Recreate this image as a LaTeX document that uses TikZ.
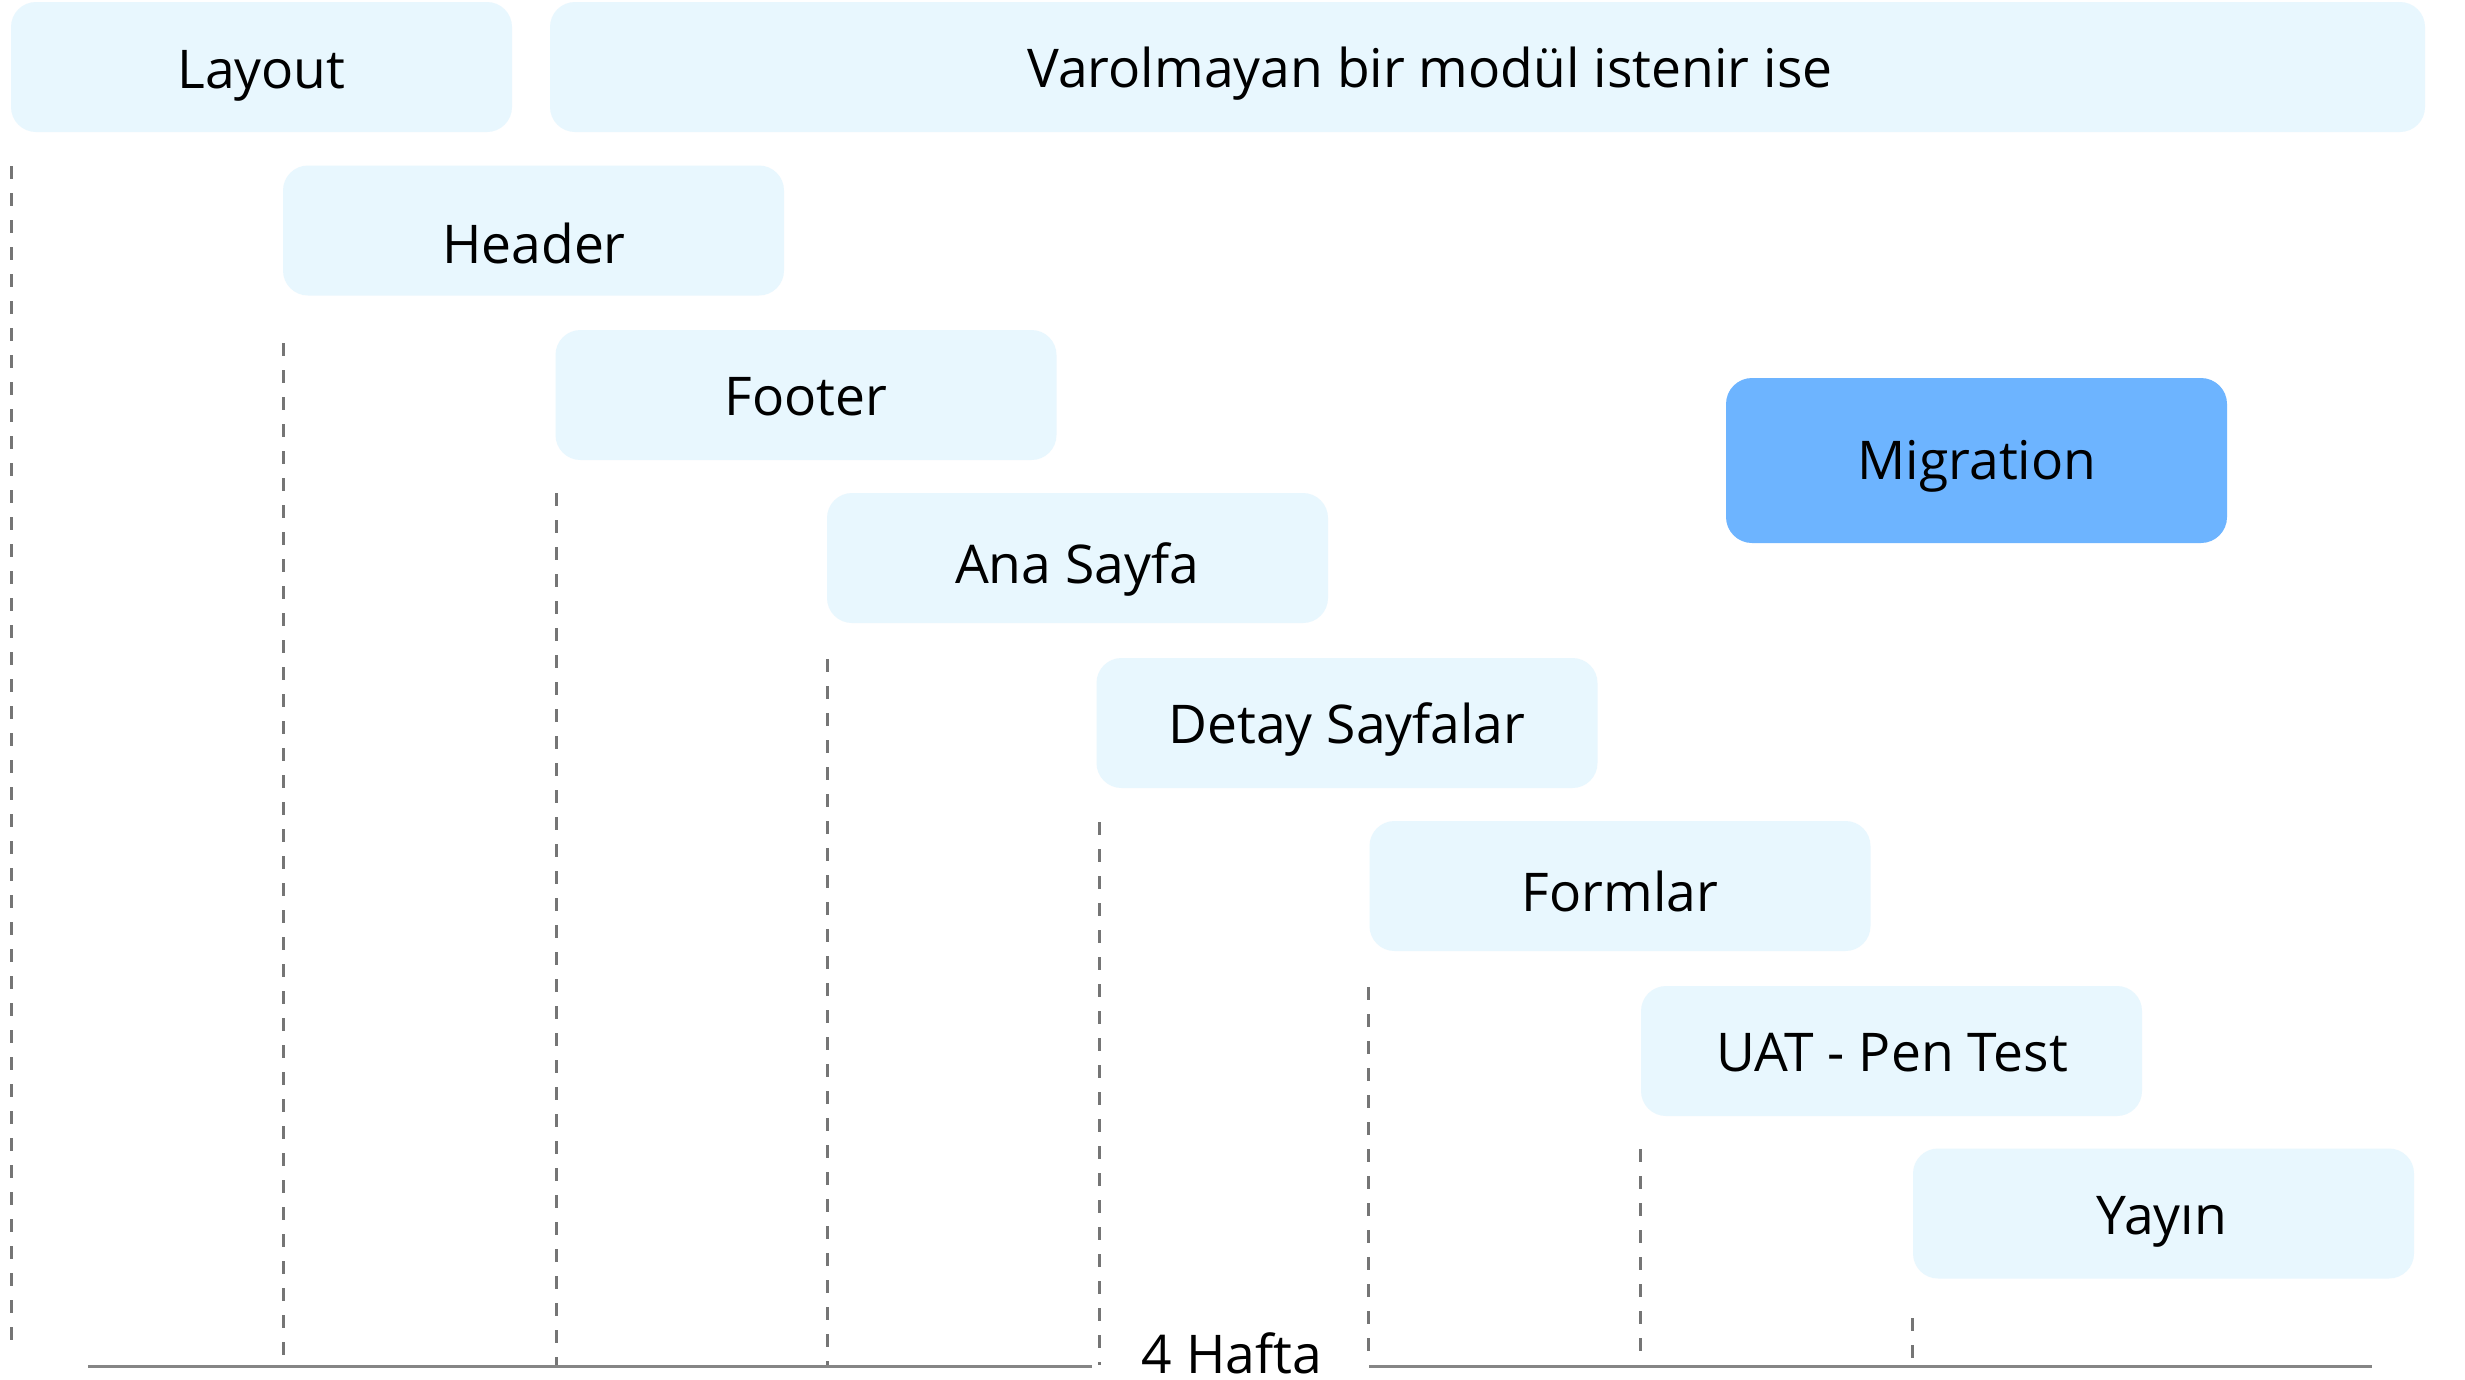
\documentclass[tikz,border=0pt]{standalone}
\usepackage{fontspec}
\setmainfont{Open Sans}
\definecolor{barfill}{HTML}{E8F7FE}
\definecolor{migfill}{HTML}{6DB4FF}
\definecolor{guidegray}{HTML}{757575}
\definecolor{axisgray}{HTML}{858585}
\begin{document}
\begin{tikzpicture}[x=1pt,y=-1pt,
  bar/.style={fill=barfill, rounded corners=25pt, inner sep=0pt, minimum width=501pt, minimum height=130pt},
  migbar/.style={fill=migfill, rounded corners=26pt, inner sep=0pt, minimum width=501pt, minimum height=165pt},
  lbl/.style={anchor=base, inner sep=0pt, font=\fontsize{53.4}{60}\selectfont, text=black},
  guide/.style={draw=guidegray, line width=3pt, dash pattern=on 13pt off 14pt},
  axisline/.style={draw=axisgray, line width=3pt}]
\useasboundingbox (0,0) rectangle (2465,1379);
\fill[white] (0,0) rectangle (2465,1379);

% bars
\node[bar] (layout) at (261.5,67) {};
\node[bar, minimum width=1875pt] (varol) at (1487.5,67) {};
\node[bar] (header) at (533.5,230.5) {};
\node[bar] (footer) at (806,395) {};
\node[bar] (ana) at (1077.5,558) {};
\node[bar] (detay) at (1347,723) {};
\node[bar] (formlar) at (1620,886) {};
\node[bar] (uat) at (1891.5,1051) {};
\node[bar] (yayin) at (2163.5,1213.5) {};
\node[migbar] (migration) at (1976.5,460.5) {};

% labels
\node[lbl] (tlayout) at (261.5,88) {Layout};
\node[lbl] (tvarol) at (1430,87) {Varolmayan bir modül istenir ise};
\node[lbl] (theader) at (534,263) {Header};
\node[lbl] (tfooter) at (806,415) {Footer};
\node[lbl] (tana) at (1077,583) {Ana Sayfa};
\node[lbl] (tdetay) at (1347,743) {Detay Sayfalar};
\node[lbl] (tformlar) at (1620,911) {Formlar};
\node[lbl] (tuat) at (1892,1071) {UAT - Pen Test};
\node[lbl] (tyayin) at (2162,1234) {Yayın};
\node[lbl] (tmig) at (1977,479) {Migration};
\node[lbl] (thafta) at (1232,1373) {4 Hafta};

% guide lines
\coordinate (g1s) at (11,166);   \coordinate (g1e) at (11,1352);
\coordinate (g2s) at (283,343);  \coordinate (g2e) at (283,1365);
\coordinate (g3s) at (556,493);  \coordinate (g3e) at (556,1365);
\coordinate (g4s) at (827,659);  \coordinate (g4e) at (827,1365);
\coordinate (g5s) at (1099,822); \coordinate (g5e) at (1099,1365);
\coordinate (g6s) at (1368,987); \coordinate (g6e) at (1368,1365);
\coordinate (g7s) at (1640,1149);\coordinate (g7e) at (1640,1365);
\coordinate (g8s) at (1912,1318);\coordinate (g8e) at (1912,1365);
\foreach \i in {1,...,8} {\draw[guide] (g\i s) -- (g\i e);}

% axis
\coordinate (a1) at (88,1366);
\coordinate (a2) at (1092,1366);
\coordinate (a3) at (1369,1366);
\coordinate (a4) at (2372,1366);
\draw[axisline] (a1) -- (a2);
\draw[axisline] (a3) -- (a4);
\end{tikzpicture}
\end{document}
